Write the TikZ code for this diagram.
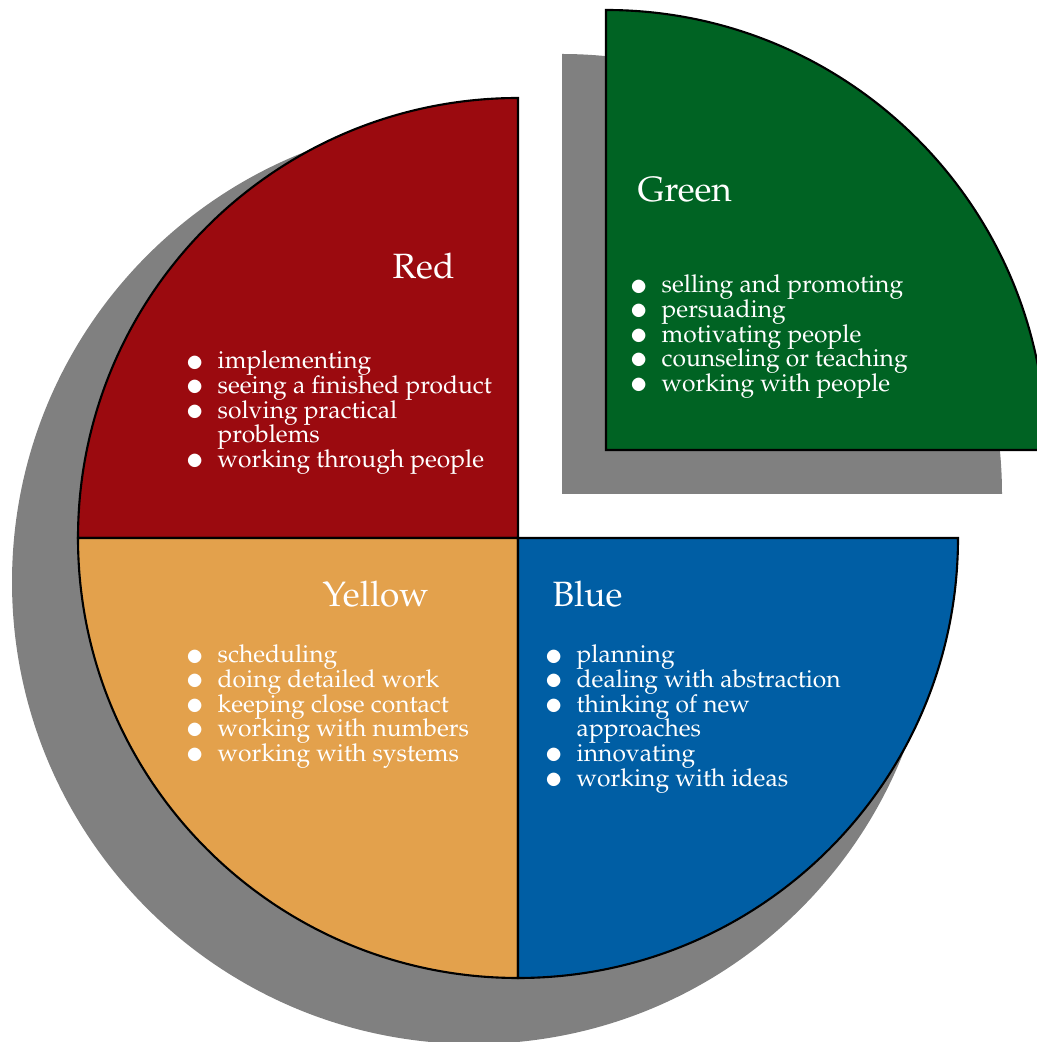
\documentclass[tikz,border=0pt]{standalone}
\usepackage[T1]{fontenc}
\usepackage{mathpazo}
\usepackage{tikz}
\usepackage{xcolor}
\definecolor{redsector}{RGB}{155,10,15}
\definecolor{greensector}{RGB}{0,99,35}
\definecolor{bluesector}{RGB}{0,94,164}
\definecolor{yellowsector}{RGB}{227,161,76}
\definecolor{shadowgray}{RGB}{128,128,128}
\tikzset{
    sector/.style = {draw=black, line width=0.6pt},
    sector-shadow/.style = {fill=shadowgray},
    sector-title/.style = {text=white, font=\fontsize{10}{12}\selectfont, inner sep=0pt, anchor=base west},
    sector-list/.style = {text=white, font=\fontsize{7}{7}\selectfont, inner sep=0pt, anchor=base west},
}
\newcommand{\bulletline}[1]{\makebox[0.31cm][l]{\hspace{-0.3pt}\raisebox{-0.6pt}{\scalebox{1.35}{$\bullet$}}}#1}
\newcommand{\sectorlist}[1]{\parbox[t]{5cm}{\lineskiplimit=-5pt #1}}

\begin{document}
\begin{tikzpicture}
\useasboundingbox (0,0) rectangle (10.37,10.42);
\clip (0,0) rectangle (10.37,10.42);
\coordinate (center) at (5.18,5.04);
\coordinate (green-corner) at (6.06,5.92);
\coordinate (shadow-center) at (4.74,4.60);
\coordinate (green-shadow) at (5.62,5.48);
% shadows
\fill[sector-shadow] (shadow-center) -- ++(90:4.62) arc (90:360:4.62) -- cycle;
\fill[sector-shadow] (green-shadow) -- ++(0:4.4) arc (0:90:4.4) -- cycle;
% sectors
\filldraw[sector, fill=redsector] (center) -- ++(180:4.4) arc (180:90:4.4) -- cycle;
\filldraw[sector, fill=yellowsector] (center) -- ++(180:4.4) arc (180:270:4.4) -- cycle;
\filldraw[sector, fill=bluesector] (center) -- ++(270:4.4) arc (270:360:4.4) -- cycle;
\filldraw[sector, fill=greensector] (green-corner) -- ++(0:4.4) arc (0:90:4.4) -- cycle;
% labels
\node[sector-title] (red-title) at (3.92,7.63) {Red};
\node[sector-list] (red-list) at (1.86,6.73) {\sectorlist{%
    \bulletline{implementing}\\
    \bulletline{seeing a finished product}\\
    \bulletline{solving practical}\\
    \hspace*{0.31cm}problems\\
    \bulletline{working through people}}};
\node[sector-title] (green-title) at (6.37,8.40) {Green};
\node[sector-list] (green-list) at (6.30,7.49) {\sectorlist{%
    \bulletline{selling and promoting}\\
    \bulletline{persuading}\\
    \bulletline{motivating people}\\
    \bulletline{counseling or teaching}\\
    \bulletline{working with people}}};
\node[sector-title] (yellow-title) at (3.22,4.35) {Yellow};
\node[sector-list] (yellow-list) at (1.86,3.79) {\sectorlist{%
    \bulletline{scheduling}\\
    \bulletline{doing detailed work}\\
    \bulletline{keeping close contact}\\
    \bulletline{working with numbers}\\
    \bulletline{working with systems}}};
\node[sector-title] (blue-title) at (5.52,4.35) {Blue};
\node[sector-list] (blue-list) at (5.45,3.79) {\sectorlist{%
    \bulletline{planning}\\
    \bulletline{dealing with abstraction}\\
    \bulletline{thinking of new}\\
    \hspace*{0.31cm}approaches\\
    \bulletline{innovating}\\
    \bulletline{working with ideas}}};
\end{tikzpicture}
\end{document}
